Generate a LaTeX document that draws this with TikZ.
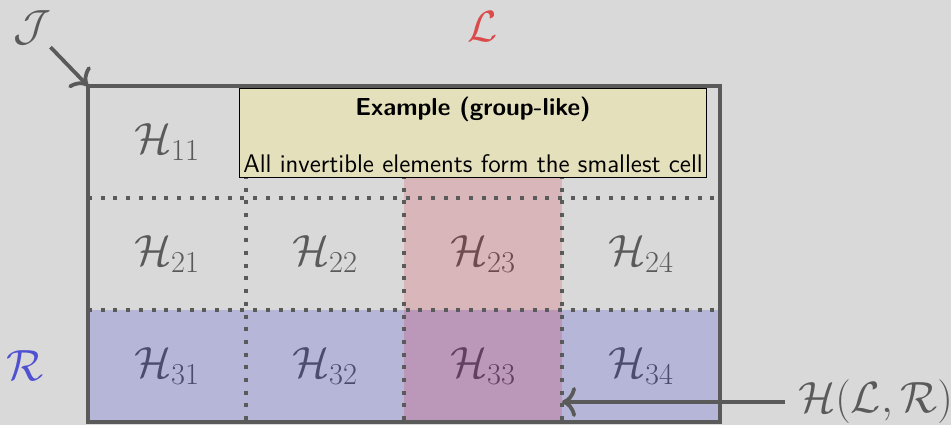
\documentclass[tikz,border=0pt]{standalone}
\usepackage{amsmath}
\usetikzlibrary{positioning, arrows.meta, calc}
\definecolor{bg}{HTML}{D9D9D9}
\definecolor{ink}{HTML}{5A5A5A}
\definecolor{lclass}{RGB}{217,0,25}
\definecolor{rclass}{RGB}{0,5,217}
\definecolor{lred}{HTML}{DC4B4B}
\definecolor{rblue}{HTML}{5050D2}
\definecolor{note}{HTML}{E4E0BC}

\begin{document}
\begin{tikzpicture}[
    >={Computer Modern Rightarrow[length=0.28cm, width=0.6cm]},
    cell/.style={minimum width=3.16cm, minimum height=2.24cm, inner sep=0pt, outer sep=0pt,
                 text=ink, font=\fontsize{26}{31}\selectfont},
    lbl/.style={inner sep=1pt, font=\fontsize{25}{30}\selectfont},
    frame/.style={draw=ink, line width=0.075cm},
    sep/.style={draw=ink, line width=0.08cm, dash pattern=on 0.08cm off 0.174cm},
    arr/.style={->, draw=ink, line width=0.075cm},
    lband/.style={fill=lclass, fill opacity=0.16},
    rband/.style={fill=rclass, fill opacity=0.16},
    exbox/.style={draw=black, line width=0.6pt, fill=note, minimum width=9.34cm,
                  minimum height=1.78cm, inner sep=0pt},
    extitle/.style={font=\sffamily\bfseries\fontsize{14}{17}\selectfont},
    extext/.style={font=\sffamily\fontsize{14.5}{17}\selectfont, inner sep=3pt},
]

\path[use as bounding box, fill=bg] (0,0) rectangle (19.02,8.5);

\node[cell, anchor=north west] (h11) at (1.76,6.78) {$\mathcal{H}_{11}$};
\node[cell, right=0pt of h11] (h12) {};
\node[cell, right=0pt of h12] (h13) {};
\node[cell, right=0pt of h13] (h14) {};

\node[cell, below=0pt of h11] (h21) {$\mathcal{H}_{21}$};
\node[cell, right=0pt of h21] (h22) {$\mathcal{H}_{22}$};
\node[cell, right=0pt of h22] (h23) {$\mathcal{H}_{23}$};
\node[cell, right=0pt of h23] (h24) {$\mathcal{H}_{24}$};

\node[cell, below=0pt of h21] (h31) {$\mathcal{H}_{31}$};
\node[cell, right=0pt of h31] (h32) {$\mathcal{H}_{32}$};
\node[cell, right=0pt of h32] (h33) {$\mathcal{H}_{33}$};
\node[cell, right=0pt of h33] (h34) {$\mathcal{H}_{34}$};

\path[rband] (h31.north west) rectangle (h34.south east);
\path[lband] (h13.north west) rectangle (h33.south east);

\draw[sep] (h11.south west) -- (h14.south east);
\draw[sep] (h21.south west) -- (h24.south east);
\draw[sep] (h11.north east) -- (h31.south east);
\draw[sep] (h12.north east) -- (h32.south east);
\draw[sep] (h13.north east) -- (h33.south east);

\draw[frame] (h11.north west) rectangle (h34.south east);

\node[exbox, anchor=north west] (ex) at ($(h12.north west)+(-0.14,-0.04)$) {};
\node[extitle, below=0.05cm of ex.north] (ext) {Example (group-like)};
\node[extext, above=0pt of ex.south] (exb) {All invertible elements form the smallest cell};

\node[lbl, text=ink] (jn) at (0.64,7.94) {$\mathcal{J}$};
\draw[arr] (jn) -- (h11.north west);

\node[lbl, text=lred, above=0.84cm of h13] (ln) {$\mathcal{L}$};
\node[lbl, text=rblue, left=0.84cm of h31] (rn) {$\mathcal{R}$};

\coordinate (hit) at ($(h33.south east)+(0,0.4)$);
\node[lbl, text=ink, right=4.68cm of hit] (hlr) {$\mathcal{H}(\mathcal{L},\mathcal{R})$};
\draw[arr, shorten <=0.22cm] (hlr) -- (hit);

\end{tikzpicture}
\end{document}
